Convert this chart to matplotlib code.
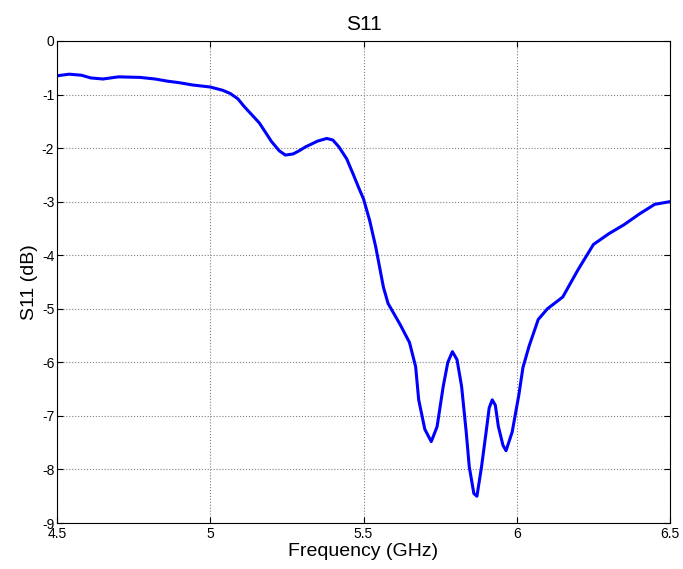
import matplotlib
matplotlib.use('Agg')
import matplotlib.pyplot as plt

plt.rcParams['font.family'] = ['Liberation Sans', 'DejaVu Sans']

# values
freq_ghz = [4.50, 4.54, 4.58, 4.61, 4.65, 4.70, 4.77, 4.82, 4.86, 4.90, 4.94, 5.00,
            5.04, 5.065, 5.09, 5.11, 5.16, 5.20, 5.225, 5.245, 5.27, 5.29, 5.31, 5.35,
            5.38, 5.40, 5.42, 5.445, 5.465, 5.485, 5.50, 5.52, 5.54, 5.565, 5.58, 5.60,
            5.62, 5.65, 5.67, 5.68, 5.70, 5.721, 5.74, 5.76, 5.775, 5.79, 5.805, 5.82,
            5.835, 5.845, 5.86, 5.87, 5.885, 5.90, 5.91, 5.92, 5.93, 5.94, 5.955, 5.965,
            5.985, 6.007, 6.02, 6.04, 6.07, 6.10, 6.15, 6.20, 6.25, 6.30, 6.35, 6.40,
            6.45, 6.50]
s11_db = [-0.65, -0.62, -0.64, -0.69, -0.71, -0.67, -0.68, -0.71, -0.75, -0.78, -0.82, -0.86,
          -0.92, -0.98, -1.08, -1.22, -1.53, -1.88, -2.05, -2.13, -2.11, -2.05, -1.98, -1.87,
          -1.82, -1.85, -1.98, -2.20, -2.47, -2.75, -2.95, -3.35, -3.85, -4.60, -4.90, -5.10,
          -5.30, -5.63, -6.08, -6.70, -7.25, -7.48, -7.20, -6.45, -6.00, -5.80, -5.95, -6.45,
          -7.30, -7.95, -8.45, -8.50, -7.95, -7.30, -6.85, -6.70, -6.80, -7.20, -7.55, -7.65,
          -7.30, -6.60, -6.10, -5.70, -5.20, -5.00, -4.78, -4.27, -3.80, -3.60, -3.43, -3.23,
          -3.05, -3.00]

xticks = [4.5, 5, 5.5, 6, 6.5]
yticks = list(range(-9, 1))

fig = plt.figure(figsize=(6.83, 5.69), dpi=100)
ax = fig.add_axes([0.0835, 0.0808, 0.8975, 0.8472])

ax.plot(freq_ghz, s11_db, color='#0000ff', linewidth=2.2)

ax.set_xlim(4.5, 6.5)
ax.set_ylim(-9, 0)
ax.set_xticks(xticks)
ax.set_xticklabels(['4.5', '5', '5.5', '6', '6.5'])
ax.set_yticks(yticks)
ax.set_yticklabels([str(v) for v in yticks])
ax.tick_params(direction='in', top=True, right=True, labelsize=10, length=4)
ax.tick_params(axis='x', pad=3)
ax.tick_params(axis='y', pad=2)
ax.grid(True, linestyle=':', color='#808080', linewidth=0.8)
for sp in ax.spines.values():
    sp.set_linewidth(0.8)

ax.set_title('S11', fontsize=15, pad=8)
ax.set_xlabel('Frequency (GHz)', fontsize=14, labelpad=1)
ax.set_ylabel('S11 (dB)', fontsize=14, labelpad=3)

fig.savefig('out.png', dpi=100)
